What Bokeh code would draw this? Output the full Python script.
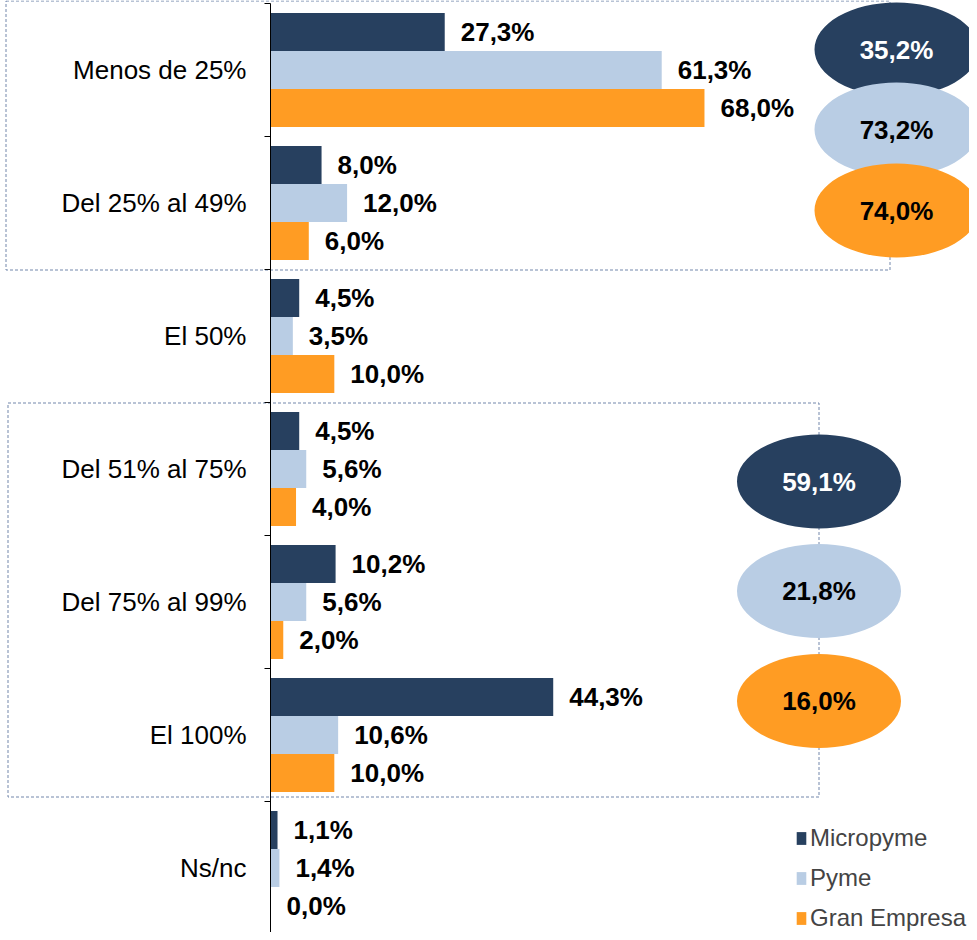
from bokeh.plotting import figure
from bokeh.models import (ColumnDataSource, Range1d, FixedTicker, BoxAnnotation,
                          Legend, LegendItem)
from bokeh.transform import dodge
from bokeh.core.properties import value
from bokeh.embed import file_html
from bokeh.resources import INLINE

# ---------------- data ----------------
categories = ["Menos de 25%", "Del 25% al 49%", "El 50%", "Del 51% al 75%",
              "Del 75% al 99%", "El 100%", "Ns/nc"]
micropyme = [27.3, 8.0, 4.5, 4.5, 10.2, 44.3, 1.1]
pyme = [61.3, 12.0, 3.5, 5.6, 5.6, 10.6, 1.4]
gran_empresa = [68.0, 6.0, 10.0, 4.0, 2.0, 10.0, 0.0]
series_names = ["Micropyme", "Pyme", "Gran Empresa"]

# grouped totals (shown in ellipses): group 1 = under 50%, group 2 = 51% to 100%
group_names = ["Menos del 50%", "Del 51% al 100%"]
group_micropyme = [35.2, 59.1]
group_pyme = [73.2, 21.8]
group_gran_empresa = [74.0, 16.0]

# ---------------- style / layout ----------------
FONT = "Liberation Sans"
C_DARK = "#27405F"
C_LIGHT = "#B9CDE4"
C_ORANGE = "#FF9C23"
DASH_C = "#7287AB"
colors = [C_DARK, C_LIGHT, C_ORANGE]

W, H = 969, 932
AXIS_X = 270              # figure px of the value axis zero line
AXIS_TOP = 3              # figure px of the first category boundary
PX_PER_UNIT = 6.382
ROW_PX = 133.0
x_start = -AXIS_X / PX_PER_UNIT
x_end = (W - AXIS_X) / PX_PER_UNIT
y_top = -AXIS_TOP / ROW_PX
y_bottom = (H - AXIS_TOP) / ROW_PX
BAR_H = 0.2857


def fmt(v):
    return f"{v:.1f}".replace(".", ",") + "%"


def px_to_x(page_px):
    return (page_px - 8 - AXIS_X) / PX_PER_UNIT


def px_to_y(page_px):
    return (page_px - 8 - AXIS_TOP) / ROW_PX


pos = [i + 0.5 for i in range(len(categories))]
src = ColumnDataSource(dict(
    pos=pos, cat=categories,
    micro=micropyme, pyme=pyme, gran=gran_empresa,
    micro_l=[fmt(v) for v in micropyme],
    pyme_l=[fmt(v) for v in pyme],
    gran_l=[fmt(v) for v in gran_empresa],
))

p = figure(width=W, height=H, output_backend="svg", toolbar_location=None,
           x_range=Range1d(x_start, x_end), y_range=Range1d(y_bottom, y_top),
           x_axis_location=None, min_border_left=0, min_border_top=0,
           min_border_bottom=0, min_border_right=0)
p.outline_line_color = None
p.grid.visible = False
p.background_fill_color = "white"

# category axis placed at value 0
ax = p.yaxis[0]
ax.fixed_location = 0
ax.bounds = (0, len(categories))
ax.ticker = FixedTicker(ticks=pos, minor_ticks=list(range(len(categories) + 1)))
ax.major_label_overrides = {pv: c for pv, c in zip(pos, categories)}
ax.major_tick_in = 0
ax.major_tick_out = 0
ax.minor_tick_in = 0
ax.minor_tick_out = 6
ax.minor_tick_line_color = "black"
ax.axis_line_color = "black"
ax.major_label_text_font = FONT
ax.major_label_text_font_size = "26px"
ax.major_label_text_color = "black"
ax.major_label_standoff = 18

# dashed group boxes
for l, r, t, b in [(13.5, 897.5, 8.5, 277.5), (15.5, 826.5, 410.5, 804.5)]:
    p.add_layout(BoxAnnotation(left=px_to_x(l), right=px_to_x(r),
                               top=px_to_y(t), bottom=px_to_y(b),
                               fill_alpha=0, line_color=DASH_C, line_alpha=1.0,
                               line_width=1, line_dash="3 2", level="underlay"))

# bars
offsets = [-BAR_H, 0, BAR_H]
fields = ["micro", "pyme", "gran"]
renderers = []
for f, off, c in zip(fields, offsets, colors):
    r = p.hbar(y=dodge("pos", off, range=p.y_range), left=0, right=f, height=BAR_H,
               fill_color=c, line_color=None, source=src)
    renderers.append(r)
    p.text(x=f, y=dodge("pos", off, range=p.y_range), text=f + "_l", x_offset=16,
           text_baseline="middle", text_align="left", text_font=value(FONT),
           text_font_style="bold", text_font_size="26px", text_color="black", source=src)

# ellipses with group totals
ell_x = [px_to_x(904), px_to_x(826.5)]
ell_y = [[px_to_y(57), px_to_y(137), px_to_y(218)],
         [px_to_y(489), px_to_y(598.5), px_to_y(708.5)]]
group_vals = [group_micropyme, group_pyme, group_gran_empresa]
txt_cols = ["white", "black", "black"]
for g in range(len(group_names)):
    for s in range(3):
        p.ellipse(x=[ell_x[g]], y=[ell_y[g][s]], width=164, height=94,
                  width_units="screen", height_units="screen",
                  fill_color=colors[s], line_color=None)
        p.text(x=[ell_x[g]], y=[ell_y[g][s]], text=[fmt(group_vals[s][g])],
               text_align="center", text_baseline="middle", text_font=value(FONT),
               text_font_style="bold", text_font_size="26px", text_color=txt_cols[s])

# legend
legend = Legend(items=[LegendItem(label=n, renderers=[r]) for n, r in zip(series_names, renderers)],
                location=(795, 0), orientation="vertical",
                glyph_width=12, glyph_height=16, label_standoff=3,
                label_text_font=FONT, label_text_font_size="24px", label_height=26,
                spacing=12, padding=0, margin=0, border_line_color=None,
                background_fill_alpha=0)
p.add_layout(legend)

open("out.html", "w").write(file_html(p, INLINE))
